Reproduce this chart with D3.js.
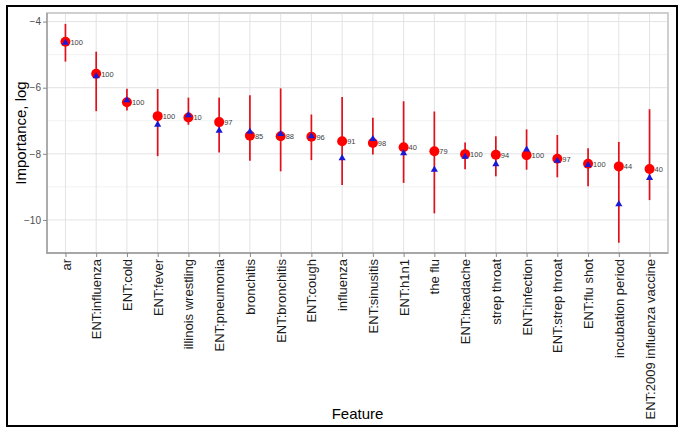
<!DOCTYPE html>
<html><head><meta charset="utf-8">
<script src="https://cdn.jsdelivr.net/npm/d3@7"></script>
<style>body{margin:0;background:#fff}svg{display:block}</style>
</head><body><svg id="c" width="682" height="434"></svg>
<script>
const features = ["ar","ENT:influenza","ENT:cold","ENT:fever","illinois wrestling","ENT:pneumonia","bronchitis","ENT:bronchitis","ENT:cough","influenza","ENT:sinusitis","ENT:h1n1","the flu","ENT:headache","strep throat","ENT:infection","ENT:strep throat","ENT:flu shot","incubation period","ENT:2009 influenza vaccine"];
const meanVals = [-4.61,-5.58,-6.44,-6.86,-6.90,-7.04,-7.45,-7.47,-7.48,-7.62,-7.67,-7.80,-7.92,-8.01,-8.03,-8.04,-8.15,-8.30,-8.38,-8.46];
const triVals  = [-4.64,-5.65,-6.38,-7.12,-6.83,-7.30,-7.33,-7.40,-7.47,-8.13,-7.55,-7.98,-8.48,-8.09,-8.31,-7.87,-8.21,-8.34,-9.52,-8.73];
const upperVals = [-4.07,-4.91,-6.03,-6.04,-6.30,-6.30,-6.23,-6.02,-6.81,-6.28,-6.91,-6.41,-6.72,-7.66,-7.47,-7.26,-7.43,-7.83,-7.64,-6.65];
const lowerVals = [-5.21,-6.71,-6.69,-8.07,-7.12,-7.96,-8.21,-8.53,-8.19,-8.94,-8.02,-8.88,-9.80,-8.47,-8.68,-8.48,-8.71,-8.98,-10.69,-9.40];
const countLabels = ["100","100","100","100","10","97","85","88","96","91","98","40","79","100","94","100","97","100","44","40"];
const yTicks = [-4,-6,-8,-10];
const yMinor = [-5,-7,-9];

const svg = d3.select("#c");
const L=47, R=668, T=13, B=253;
const x = d3.scalePoint().domain(features).range([L,R]).padding(0.6);
const y = d3.scaleLinear().domain([-11.0,-3.74]).range([B,T]);
const font = "'Liberation Sans', Arial, sans-serif";

// outer border
svg.append("rect").attr("x",7).attr("y",6).attr("width",670).attr("height",420)
  .attr("fill","#fff").attr("stroke","#000").attr("stroke-width",2);

// panel
const g = svg.append("g");
g.append("rect").attr("x",L).attr("y",T).attr("width",R-L).attr("height",B-T).attr("fill","#fff");
g.selectAll(".ym").data(yMinor).join("line")
  .attr("x1",L).attr("x2",R).attr("y1",d=>y(d)).attr("y2",d=>y(d))
  .attr("stroke","#f2f2f2").attr("stroke-width",1);
g.selectAll(".yg").data(yTicks).join("line")
  .attr("x1",L).attr("x2",R).attr("y1",d=>y(d)).attr("y2",d=>y(d))
  .attr("stroke","#e3e3e3").attr("stroke-width",1);
g.selectAll(".xg").data(features).join("line")
  .attr("x1",d=>x(d)).attr("x2",d=>x(d)).attr("y1",T).attr("y2",B)
  .attr("stroke","#e3e3e3").attr("stroke-width",1);

// panel border
g.append("rect").attr("x",L).attr("y",T).attr("width",R-L).attr("height",B-T)
  .attr("fill","none").attr("stroke","#cfcfcf").attr("stroke-width",2);
g.append("line").attr("x1",L).attr("x2",L).attr("y1",T).attr("y2",B+1).attr("stroke","#9a9a9a").attr("stroke-width",1.3);
g.append("line").attr("x1",L).attr("x2",R).attr("y1",B).attr("y2",B).attr("stroke","#9a9a9a").attr("stroke-width",1.3);

// axes
const yAxis = d3.axisLeft(y).tickValues(yTicks).tickSize(4).tickPadding(2).tickFormat(d3.format("d"));
const ya = svg.append("g").attr("transform",`translate(${L},0)`).call(yAxis);
ya.select(".domain").remove();
ya.selectAll("line").attr("stroke","#888");
ya.selectAll("text").attr("font-family",font).attr("font-size",10).attr("fill","#4d4d4d");

const xAxis = d3.axisBottom(x).tickSize(4).tickPadding(2);
const xa = svg.append("g").attr("transform",`translate(0,${B})`).call(xAxis);
xa.select(".domain").remove();
xa.selectAll("line").attr("stroke","#888");
xa.selectAll("text").attr("font-family",font).attr("font-size",13).attr("fill","#1a1a1a")
  .attr("transform","rotate(-90)").attr("text-anchor","end").attr("dy","0.35em")
  .attr("x",-6).attr("y",0);

// error bars
const idx = d3.range(features.length);
svg.append("g").selectAll("line").data(idx).join("line")
  .attr("x1",i=>x(features[i])).attr("x2",i=>x(features[i]))
  .attr("y1",i=>y(upperVals[i])).attr("y2",i=>y(lowerVals[i]))
  .attr("stroke","#e0101a").attr("stroke-width",1.7);
// circles
svg.append("g").selectAll("circle").data(idx).join("circle")
  .attr("cx",i=>x(features[i])).attr("cy",i=>y(meanVals[i])).attr("r",5)
  .attr("fill","#ff0000");
// triangles
const tri = d3.symbol().type(d3.symbolTriangle).size(22);
svg.append("g").selectAll("path").data(idx).join("path")
  .attr("d",tri).attr("transform",i=>`translate(${x(features[i])},${y(triVals[i])})`)
  .attr("fill","#1a1ad6");
// count labels
svg.append("g").selectAll("text").data(idx).join("text")
  .attr("x",i=>x(features[i])+5).attr("y",i=>y(meanVals[i])+1)
  .attr("dominant-baseline","middle")
  .attr("font-family",font).attr("font-size",7.5).attr("fill","#404040")
  .text(i=>countLabels[i]);

// titles
svg.append("text").attr("transform",`translate(22,${(T+B)/2}) rotate(-90)`)
  .attr("text-anchor","middle").attr("dominant-baseline","middle")
  .attr("font-family",font).attr("font-size",15).attr("fill","#000").text("Importance, log");
svg.append("text").attr("x",(L+R)/2).attr("y",415).attr("text-anchor","middle").attr("dominant-baseline","middle")
  .attr("font-family",font).attr("font-size",15).attr("fill","#000").text("Feature");
</script></body></html>
